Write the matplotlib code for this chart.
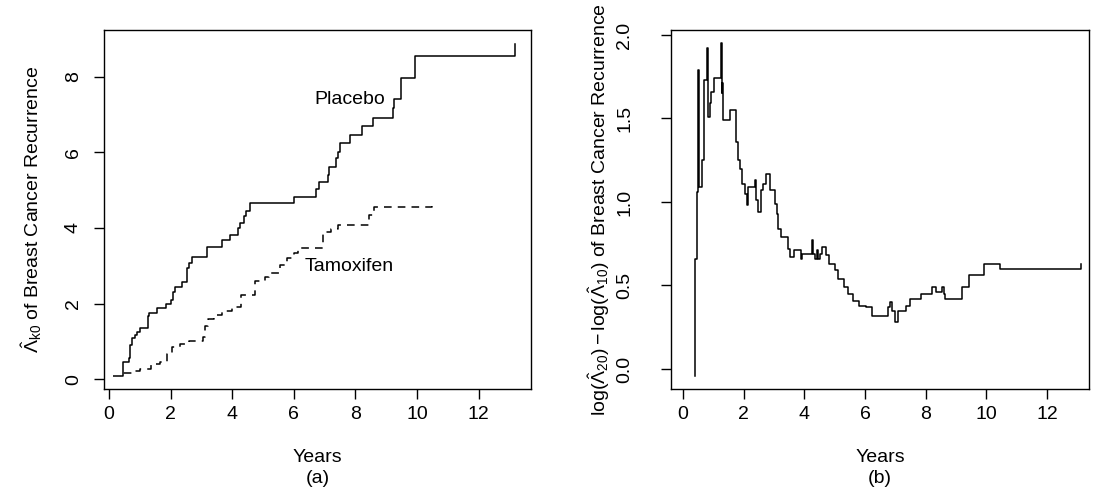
import numpy as np
import matplotlib
matplotlib.use("Agg")
import matplotlib.pyplot as plt

plt.rcParams['font.family'] = ['Liberation Sans', 'DejaVu Sans']
plt.rcParams['mathtext.fontset'] = 'custom'
plt.rcParams['mathtext.rm'] = 'Liberation Sans'
plt.rcParams['mathtext.it'] = 'Liberation Sans:italic'
plt.rcParams['mathtext.bf'] = 'Liberation Sans:bold'

# (a) cumulative baseline hazard, step times (years) and values
placebo_t = [0.38, 0.47, 0.65, 0.70, 0.76, 0.84, 0.90, 1.01, 1.27, 1.31,
             1.57, 1.84, 2.00, 2.07, 2.16, 2.38, 2.54, 2.60, 2.71, 3.19,
             3.68, 3.93, 4.20, 4.25, 4.39, 4.44, 4.57, 6.02, 6.73, 6.81,
             7.11, 7.15, 7.37, 7.42, 7.50, 7.84, 8.23, 8.56, 9.23, 9.25,
             9.47, 9.94, 13.18]
placebo_v = [0.08, 0.46, 0.55, 0.90, 1.08, 1.16, 1.25, 1.34, 1.67, 1.76,
             1.87, 1.98, 2.09, 2.31, 2.44, 2.58, 2.93, 3.08, 3.22, 3.50,
             3.68, 3.82, 3.99, 4.14, 4.30, 4.45, 4.65, 4.82, 5.02, 5.20,
             5.40, 5.60, 5.84, 6.01, 6.24, 6.45, 6.68, 6.91, 7.16, 7.41,
             7.95, 8.53, 8.86]

tamox_t = [0.12, 0.40, 0.75, 1.00, 1.35, 1.65, 1.88, 2.05, 2.32, 2.60,
           3.05, 3.12, 3.20, 3.40, 3.68, 3.98, 4.30, 4.75, 5.08, 5.20,
           5.55, 5.78, 6.00, 6.15, 6.95, 7.20, 7.45, 8.45, 8.62, 10.50]
tamox_v = [0.08, 0.15, 0.22, 0.26, 0.40, 0.46, 0.66, 0.84, 0.94, 1.01,
           1.12, 1.40, 1.59, 1.69, 1.80, 1.90, 2.22, 2.59, 2.69, 2.80,
           3.02, 3.19, 3.33, 3.48, 3.90, 3.96, 4.07, 4.34, 4.54, 4.71]

# (b) log ratio of cumulative hazards
ratio_t = [0.395, 0.41, 0.45, 0.50, 0.505, 0.527, 0.637, 0.703, 0.78, 0.835,
           0.89, 0.92, 1.03, 1.24, 1.27, 1.29, 1.33, 1.55, 1.75, 1.82,
           1.88, 1.95, 2.04, 2.10, 2.15, 2.37, 2.40, 2.46, 2.57, 2.65,
           2.73, 2.87, 3.03, 3.09, 3.14, 3.23, 3.47, 3.53, 3.67, 3.88,
           3.91, 4.24, 4.29, 4.35, 4.40, 4.44, 4.51, 4.59, 4.70, 4.81,
           5.01, 5.12, 5.32, 5.43, 5.61, 5.81, 6.02, 6.24, 6.77, 6.82,
           6.90, 6.99, 7.09, 7.34, 7.48, 7.83, 8.19, 8.34, 8.52, 8.61,
           8.65, 9.21, 9.43, 9.92, 10.45, 13.10]
ratio_v = [-0.04, 0.66, 1.06, 1.37, 1.79, 1.09, 1.25, 1.73, 1.92, 1.51,
           1.59, 1.66, 1.74, 1.95, 1.655, 1.71, 1.49, 1.55, 1.36, 1.25,
           1.20, 1.11, 1.05, 0.98, 1.09, 1.13, 1.01, 0.94, 1.07, 1.11,
           1.165, 1.07, 0.99, 0.93, 0.84, 0.79, 0.72, 0.67, 0.71, 0.66,
           0.69, 0.77, 0.69, 0.66, 0.71, 0.66, 0.69, 0.73, 0.68, 0.63,
           0.59, 0.54, 0.49, 0.45, 0.41, 0.38, 0.37, 0.32, 0.37, 0.40,
           0.35, 0.28, 0.35, 0.38, 0.42, 0.45, 0.49, 0.46, 0.49, 0.45,
           0.42, 0.49, 0.56, 0.63, 0.60, 0.63]

fig = plt.figure(figsize=(10.98, 4.98), dpi=100)
ax1 = fig.add_axes([104/1098, 1-389/498, 427/1098, 359/498])
ax2 = fig.add_axes([671/1098, 1-389/498, 418/1098, 359/498])

fs = 14

ax1.step(placebo_t, placebo_v, where='post', color='black', lw=1.1)
ax1.step(tamox_t, tamox_v, where='post', color='black', lw=1.1,
         linestyle=(0, (5, 4)))
ax1.text(7.82, 7.38, 'Placebo', fontsize=fs, ha='center', va='center')
ax1.text(7.80, 2.97, 'Tamoxifen', fontsize=fs, ha='center', va='center')
ax1.set_xlim(-0.16, 13.70)
ax1.set_ylim(-0.26, 9.23)
ax1.set_xticks(np.arange(0, 13, 2))
ax1.set_yticks(np.arange(0, 9, 2))
ax1.set_xlabel('Years\n(a)', fontsize=fs, labelpad=19, linespacing=1.3)
ax1.set_ylabel(r'$\hat{\Lambda}_{\mathrm{k0}}$ of Breast Cancer Recurrence',
               fontsize=fs, labelpad=15)

ax2.step(ratio_t, ratio_v, where='post', color='black', lw=1.1)
ax2.set_xlim(-0.395, 13.38)
ax2.set_ylim(-0.12, 2.03)
ax2.set_xticks(np.arange(0, 13, 2))
ax2.set_yticks([0.0, 0.5, 1.0, 1.5, 2.0])
ax2.set_yticklabels(['0.0', '0.5', '1.0', '1.5', '2.0'])
ax2.set_xlabel('Years\n(b)', fontsize=fs, labelpad=19, linespacing=1.3)
ax2.set_ylabel(r'$\log(\hat{\Lambda}_{20}) - \log(\hat{\Lambda}_{10})$ of Breast Cancer Recurrence',
               fontsize=fs, labelpad=3)

for ax in (ax1, ax2):
    for s in ax.spines.values():
        s.set_linewidth(1.0)
    ax.tick_params(axis='both', direction='out', length=7, width=1.0,
                   labelsize=fs)
    ax.tick_params(axis='x', pad=5)
    ax.tick_params(axis='y', labelrotation=90)
    for lab in ax.get_yticklabels():
        lab.set_va('center')
ax1.tick_params(axis='y', pad=9)
ax2.tick_params(axis='y', pad=20)

fig.savefig('out.png', dpi=100)
